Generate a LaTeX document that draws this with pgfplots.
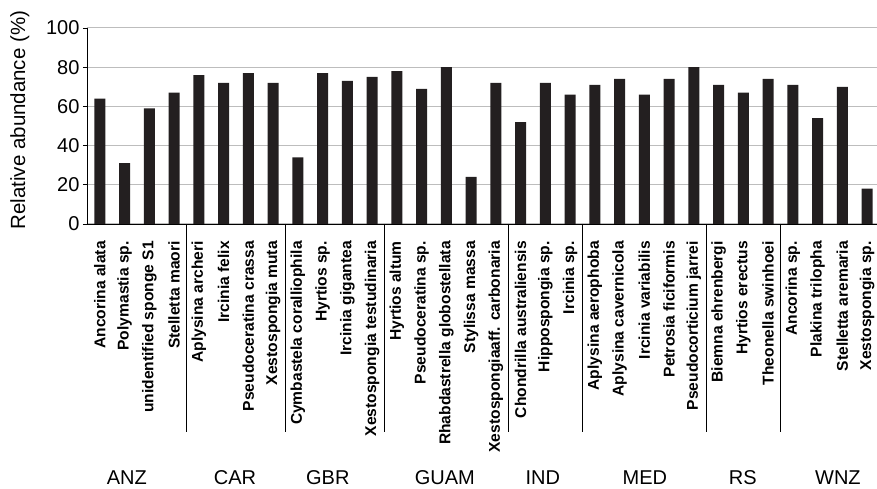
\documentclass[border=0pt]{standalone}
\usepackage{pgfplots}
\pgfplotsset{compat=1.18}
\usepackage{fontspec}
\setmainfont{Liberation Sans}
\definecolor{barc}{HTML}{231F20}
\definecolor{gridc}{HTML}{BDBDBD}
\begin{document}
\begin{tikzpicture}
\begin{axis}[
  name=ax,
  scale only axis,
  width=790pt, height=196pt,
  xmin=-0.52, xmax=31.4,
  ymin=0, ymax=100,
  ytick={0,20,40,60,80,100},
  axis x line*=bottom, axis y line*=left,
  axis line style={black, line width=0.8pt},
  ymajorgrids, grid style={gridc, line width=1pt},
  xtick=data,
  xticklabels={Ancorina alata,Polymastia sp.,unidentified sponge S1,Stelletta maori,
    Aplysina archeri,Ircinia felix,Pseudoceratina crassa,Xestospongia muta,
    Cymbastela coralliophila,Hyrtios sp.,Ircinia gigantea,Xestospongia testudinaria,
    Hyrtios altum,Pseudoceratina sp.,Rhabdastrella globostellata,Stylissa massa,Xestospongiaaff. carbonaria,
    Chondrilla australiensis,Hippospongia sp.,Ircinia sp.,
    Aplysina aerophoba,Aplysina cavernicola,Ircinia variabilis,Petrosia ficiformis,Pseudocorticium jarrei,
    Biemna ehrenbergi,Hyrtios erectus,Theonella swinhoei,
    Ancorina sp.,Plakina trilopha,Stelletta aremaria,Xestospongia sp.},
  xtick style={draw=none},
  xticklabel style={rotate=90, anchor=east, inner sep=0pt, font=\fontsize{15.6}{18}\selectfont\bfseries},
  xticklabel shift=13pt,
  yticklabel style={font=\fontsize{20}{23}\selectfont},
  /pgf/number format/assume math mode=true,
  ytick style={black, line width=0.8pt},
  tick align=outside, major tick length=4pt,
  every axis y label/.style={at={(axis description cs:-0.085,0.53)}, rotate=90, anchor=center, font=\fontsize{20.5}{24}\selectfont},
  ylabel={Relative abundance (\%)},
  clip=false,
]
\addplot[ybar, bar width=0.44, fill=barc, draw=none] coordinates {
(0,64) (1,31) (2,59) (3,67)
(4,76) (5,72) (6,77) (7,72)
(8,34) (9,77) (10,73) (11,75)
(12,78) (13,69) (14,80) (15,24) (16,72)
(17,52) (18,72) (19,66)
(20,71) (21,74) (22,66) (23,74) (24,80)
(25,71) (26,67) (27,74)
(28,71) (29,54) (30,70) (31,18)
};
\foreach \s in {3.5,7.5,11.5,16.5,19.5,24.5,27.5}{
  \edef\tmp{\noexpand\draw[black, line width=0.8pt] (axis cs:\s,0) -- ([yshift=-208pt]axis cs:\s,0);}\tmp
}
\foreach \g/\x in {ANZ/1.09,CAR/5.46,GBR/9.21,GUAM/13.94,IND/17.9,MED/22.02,RS/25.98,WNZ/29.82}{
  \edef\tmp{\noexpand\node[font=\noexpand\fontsize{20}{24}\noexpand\selectfont, anchor=center] at ([yshift=-254pt]axis cs:\x,0) {\g};}\tmp
}
\end{axis}
\pgfresetboundingbox
\path[use as bounding box] ([shift={(-87pt,-265pt)}]ax.south west) rectangle ([shift={(0pt,28pt)}]ax.north east);
\end{tikzpicture}
\end{document}
